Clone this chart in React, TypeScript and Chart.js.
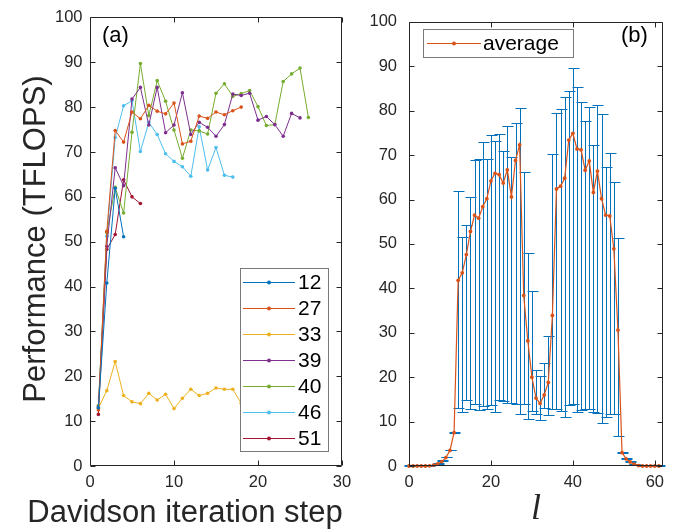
import React, { useEffect, useRef } from "react";
import { Chart, registerables } from "chart.js";
Chart.register(...registerables);

// ---------- Panel (a) data ----------
const steps = [1, 2, 3, 4, 5, 6, 7, 8, 9, 10, 11, 12, 13, 14, 15, 16, 17, 18, 19, 20, 21, 22, 23, 24, 25, 26];
const s12 = [13.0, 40.8, 61.9, 51.1];
const s27 = [12.5, 52.3, 74.8, 72.2, 78.9, 77.4, 80.4, 79.1, 78.5, 80.9, 71.8, 72.4, 78.0, 77.5, 78.9, 78.3, 79.2, 80.0];
const s33 = [12.9, 16.8, 23.3, 15.7, 14.3, 13.9, 16.2, 14.7, 16.0, 12.8, 15.1, 17.1, 15.7, 16.2, 17.4, 17.1, 17.1, 14.0];
const s39 = [13.2, 49.0, 66.5, 62.5, 81.8, 84.4, 76.0, 84.4, 74.3, 76.0, 83.2, 73.9, 76.6, 75.5, 73.5, 76.1, 82.9, 82.6, 83.1, 77.1, 77.9, 76.1, 73.5, 78.6, 77.6];
const s40 = [13.5, 52.0, 62.1, 56.4, 74.4, 89.7, 78.1, 85.9, 81.3, 74.9, 68.6, 74.9, 74.7, 74.0, 83.1, 85.2, 82.4, 83.0, 83.7, 80.1, 75.9, 76.1, 85.7, 87.4, 88.7, 77.7];
const s46 = [12.8, 51.2, 73.2, 80.3, 81.4, 70.1, 76.6, 73.9, 69.6, 67.9, 66.7, 64.6, 75.6, 66.0, 71.0, 64.8, 64.4];
const s51 = [11.5, 48.3, 51.6, 63.8, 60.0, 58.5];
const seriesNames = ["12", "27", "33", "39", "40", "46", "51"];
const seriesValues = [s12, s27, s33, s39, s40, s46, s51];
const seriesColors = ["#0072BD", "#D95319", "#EDB120", "#7E2F8E", "#77AC30", "#4DBEEE", "#A2142F"];

// ---------- Panel (b) data ----------
const lValues = [0, 1, 2, 3, 4, 5, 6, 7, 8, 9, 10, 11, 12, 13, 14, 15, 16, 17, 18, 19, 20, 21, 22, 23, 24, 25, 26, 27, 28, 29, 30, 31, 32, 33, 34, 35, 36, 37, 38, 39, 40, 41, 42, 43, 44, 45, 46, 47, 48, 49, 50, 51, 52, 53, 54, 55, 56, 57, 58, 59, 60, 61];
const avg = [0, 0, 0, 0, 0, 0.05, 0.2, 0.5, 1.0, 1.9, 3.5, 7.5, 41.8, 43.5, 47.6, 52.8, 56.5, 55.8, 58.4, 60.2, 64.2, 65.9, 65.6, 63.7, 66.7, 60.6, 68.8, 72.3, 38.4, 28.2, 20.0, 15.3, 14.1, 16.0, 18.8, 33.9, 62.4, 63.0, 64.8, 73.4, 74.9, 71.4, 71.2, 66.6, 68.7, 61.6, 66.4, 60.2, 56.5, 56.3, 48.9, 30.6, 3.0, 1.6, 0.9, 0.4, 0.1, 0, 0, 0, 0, 0];
const errHigh = [0, 0, 0, 0, 0, 0.1, 0.3, 0.7, 1.3, 2.1, 3.7, 7.7, 62.0, 51.5, 54.2, 60.5, 68.8, 69.2, 73.0, 69.1, 74.6, 73.2, 74.7, 70.9, 76.6, 69.5, 77.3, 80.7, 66.2, 48.0, 39.5, 21.7, 20.2, 23.3, 29.2, 70.3, 79.5, 80.3, 83.1, 84.5, 89.7, 85.4, 81.9, 77.6, 80.9, 72.3, 81.3, 79.3, 67.3, 70.5, 63.9, 51.4, 3.2, 1.8, 1.0, 0.5, 0.2, 0, 0, 0, 0, 0];
const errLow = [0, 0, 0, 0, 0, 0, 0.1, 0.3, 0.8, 1.7, 3.3, 7.3, 12.9, 12.0, 14.6, 12.5, 13.7, 12.3, 13.2, 12.7, 13.5, 12.0, 14.6, 14.5, 14.0, 13.9, 13.8, 11.5, 13.7, 10.4, 12.1, 11.4, 10.2, 12.8, 11.3, 12.6, 12.6, 12.1, 10.9, 13.6, 13.7, 12.0, 12.3, 12.5, 12.7, 11.9, 11.6, 9.5, 10.8, 11.5, 11.5, 6.5, 2.8, 1.4, 0.8, 0.3, 0, 0, 0, 0, 0, 0];

// ---------- Ticks ----------
const xTicksA = [0, 10, 20, 30];
const xTicksB = [0, 20, 40, 60];
const yTicks = [0, 10, 20, 30, 40, 50, 60, 70, 80, 90, 100];

const FONT = '"Liberation Sans", Arial, Helvetica, sans-serif';
const AX = "#262626";
const W = 684;
const H = 531;

function drawFrame(chart: any, xTicks: number[], yTicksArr: number[]) {
  const { ctx, chartArea: a, scales } = chart;
  const L = Math.round(a.left) + 0.5;
  const R = Math.round(a.right) - 0.5;
  const T = Math.round(a.top) + 0.5;
  const B = Math.round(a.bottom) - 0.5;
  const tl = 5;
  ctx.save();
  ctx.strokeStyle = AX;
  ctx.lineWidth = 1;
  ctx.beginPath();
  ctx.rect(L, T, R - L, B - T);
  for (const v of xTicks) {
    const x = Math.round(scales.x.getPixelForValue(v)) + 0.5;
    ctx.moveTo(x, B);
    ctx.lineTo(x, B - tl);
    ctx.moveTo(x, T);
    ctx.lineTo(x, T + tl);
  }
  for (const v of yTicksArr) {
    const y = Math.round(scales.y.getPixelForValue(v)) + 0.5;
    ctx.moveTo(L, y);
    ctx.lineTo(L + tl, y);
    ctx.moveTo(R, y);
    ctx.lineTo(R - tl, y);
  }
  ctx.stroke();
  ctx.restore();
}

function drawLegendRow(ctx: any, x0: number, x1: number, y: number, color: string, label: string, textX: number, fontSize: number) {
  ctx.strokeStyle = color;
  ctx.lineWidth = 1;
  ctx.beginPath();
  ctx.moveTo(x0, y + 0.5);
  ctx.lineTo(x1, y + 0.5);
  ctx.stroke();
  ctx.fillStyle = color;
  ctx.beginPath();
  ctx.arc((x0 + x1) / 2, y + 0.5, 2, 0, Math.PI * 2);
  ctx.fill();
  ctx.fillStyle = "#000";
  ctx.font = `${fontSize}px ${FONT}`;
  ctx.textAlign = "left";
  ctx.textBaseline = "middle";
  ctx.fillText(label, textX, y + 1);
}

function baseScales(xMin: number, xMax: number, xTicks: number[], yPad: number) {
  return {
    x: {
      type: "linear",
      min: xMin,
      max: xMax,
      grid: { display: false, drawTicks: false },
      border: { display: false },
      ticks: { color: AX, font: { family: FONT, size: 16.5 }, padding: 6.5, maxRotation: 0, autoSkip: false },
      afterBuildTicks: (s: any) => {
        s.ticks = xTicks.map((v) => ({ value: v }));
      },
      afterFit: (s: any) => {
        s.height = 40;
      },
    },
    y: {
      type: "linear",
      min: 0,
      max: 100,
      grid: { display: false, drawTicks: false },
      border: { display: false },
      ticks: { color: AX, font: { family: FONT, size: 16.5 }, padding: yPad, autoSkip: false },
      afterBuildTicks: (s: any) => {
        s.ticks = yTicks.map((v) => ({ value: v }));
      },
      afterFit: (s: any) => {
        s.width = 60;
      },
    },
  };
}

export default function App() {
  const refA = useRef<HTMLCanvasElement>(null);
  const refB = useRef<HTMLCanvasElement>(null);

  useEffect(() => {
    const pluginA = {
      id: "panelA",
      afterDatasetsDraw(chart: any) {
        const { ctx } = chart;
        drawFrame(chart, xTicksA, yTicks);
        // legend
        ctx.save();
        ctx.fillStyle = "#fff";
        ctx.fillRect(240, 268, 88, 184);
        ctx.strokeStyle = "#7a7a7a";
        ctx.lineWidth = 1;
        ctx.strokeRect(240.5, 268.5, 88, 183);
        seriesNames.forEach((n, i) => {
          drawLegendRow(ctx, 243, 295, 282 + i * 26, seriesColors[i], n, 298, 21);
        });
        // panel label
        ctx.fillStyle = "#000";
        ctx.font = `22px ${FONT}`;
        ctx.textAlign = "left";
        ctx.textBaseline = "alphabetic";
        ctx.fillText("(a)", 102, 42);
        // axis titles
        ctx.fillStyle = AX;
        ctx.font = `31px ${FONT}`;
        ctx.textAlign = "center";
        ctx.fillText("Davidson iteration step", 185, 522);
        ctx.translate(45, 239);
        ctx.rotate(-Math.PI / 2);
        ctx.fillText("Performance (TFLOPS)", 0, 0);
        ctx.restore();
      },
    };

    const pluginB = {
      id: "panelB",
      beforeDatasetsDraw(chart: any) {
        const { ctx, scales } = chart;
        ctx.save();
        ctx.strokeStyle = "#0072BD";
        ctx.lineWidth = 1;
        ctx.beginPath();
        lValues.forEach((l, i) => {
          const x = Math.round(scales.x.getPixelForValue(l)) + 0.5;
          const yl = Math.round(scales.y.getPixelForValue(errLow[i])) - 0.5;
          const yh = Math.round(scales.y.getPixelForValue(errHigh[i])) + 0.5;
          ctx.moveTo(x, yl);
          ctx.lineTo(x, yh);
          ctx.moveTo(x - 5, yl);
          ctx.lineTo(x + 6, yl);
          ctx.moveTo(x - 5, yh);
          ctx.lineTo(x + 6, yh);
        });
        ctx.stroke();
        ctx.restore();
      },
      afterDatasetsDraw(chart: any) {
        const { ctx } = chart;
        drawFrame(chart, xTicksB, yTicks);
        ctx.save();
        ctx.fillStyle = "#fff";
        ctx.fillRect(423, 29, 150, 28);
        ctx.strokeStyle = "#7a7a7a";
        ctx.lineWidth = 1;
        ctx.strokeRect(423.5, 29.5, 150, 28);
        drawLegendRow(ctx, 427, 481, 43, "#D95319", "average", 483, 21);
        ctx.fillStyle = "#000";
        ctx.font = `22px ${FONT}`;
        ctx.textAlign = "left";
        ctx.textBaseline = "alphabetic";
        ctx.fillText("(b)", 621, 42);
        ctx.fillStyle = AX;
        ctx.font = `italic 36px "Liberation Serif", "Times New Roman", serif`;
        ctx.textAlign = "center";
        ctx.fillText("l", 536, 519);
        ctx.restore();
      },
    };

    const chartA = new Chart(refA.current as HTMLCanvasElement, {
      type: "line",
      data: {
        datasets: seriesValues.map((vals, i) => ({
          label: seriesNames[i],
          data: vals.map((v, j) => ({ x: steps[j], y: v })),
          borderColor: seriesColors[i],
          backgroundColor: seriesColors[i],
          borderWidth: 1,
          pointRadius: 1.8,
          pointBorderWidth: 0,
          pointBackgroundColor: seriesColors[i],
          tension: 0,
          fill: false,
        })),
      },
      options: {
        animation: false,
        responsive: false,
        events: [],
        layout: { padding: { left: 30, right: W - 342, top: 15, bottom: H - 466 - 40 } },
        plugins: { legend: { display: false }, tooltip: { enabled: false } },
        scales: baseScales(0, 30, xTicksA, 7.5) as any,
      },
      plugins: [pluginA],
    } as any);

    const chartB = new Chart(refB.current as HTMLCanvasElement, {
      type: "line",
      data: {
        datasets: [
          {
            label: "average",
            data: lValues.map((l, i) => ({ x: l, y: avg[i] })),
            borderColor: "#D95319",
            backgroundColor: "#D95319",
            borderWidth: 1.2,
            pointRadius: 1.9,
            pointBorderWidth: 0,
            pointBackgroundColor: "#D95319",
            tension: 0,
            fill: false,
            clip: false,
          },
        ],
      },
      options: {
        animation: false,
        responsive: false,
        events: [],
        layout: { padding: { left: 409 - 60, right: W - 663, top: 15, bottom: H - 466 - 40 } },
        plugins: { legend: { display: false }, tooltip: { enabled: false } },
        scales: baseScales(0, 62, xTicksB, 12) as any,
      },
      plugins: [pluginB],
    } as any);

    return () => {
      chartA.destroy();
      chartB.destroy();
    };
  }, []);

  return (
    <div style={{ position: "absolute", left: 0, top: 0, width: W, height: H, background: "#fff" }}>
      <canvas ref={refA} width={W} height={H} style={{ position: "absolute", left: 0, top: 0, width: W, height: H }} />
      <canvas ref={refB} width={W} height={H} style={{ position: "absolute", left: 0, top: 0, width: W, height: H }} />
    </div>
  );
}
